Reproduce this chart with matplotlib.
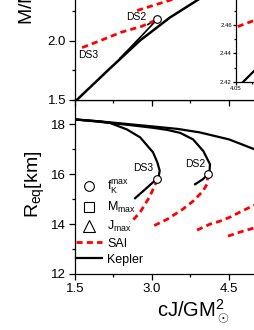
import numpy as np
import matplotlib
matplotlib.use("Agg")
import matplotlib.pyplot as plt
from matplotlib.lines import Line2D
from matplotlib.ticker import MultipleLocator

plt.rcParams['font.family'] = ['Liberation Sans', 'DejaVu Sans']
plt.rcParams['mathtext.fontset'] = 'custom'
plt.rcParams['mathtext.rm'] = 'Liberation Sans'
plt.rcParams['mathtext.it'] = 'Liberation Sans:italic'
plt.rcParams['mathtext.bf'] = 'Liberation Sans:bold'

# --- obere Tafel: M/Msun gegen cJ/GM^2 ---
m_kep_x = [1.52, 2.18, 2.766, 3.35, 3.935, 4.5]
m_kep_y = [1.49, 1.763, 2.0, 2.195, 2.356, 2.49]
m_ds2_kep_x = [2.377, 2.766, 3.097, 2.92]
m_ds2_kep_y = [1.85, 2.025, 2.178, 2.136]
m_sai_lo_x = [1.64, 2.0, 2.4, 2.8, 3.09]
m_sai_lo_y = [1.94, 2.0, 2.07, 2.12, 2.175]
m_sai_hi_x = [2.71, 3.39, 3.7]
m_sai_hi_y = [2.254, 2.347, 2.39]
m_fk_x = [3.097]
m_fk_y = [2.178]

# Inset
ins_kep_x = [4.061, 4.0797, 4.10]
ins_kep_y = [2.42, 2.4284, 2.438]
ins_sai_x = [4.0527, 4.0797, 4.10]
ins_sai_y = [2.4588, 2.4633, 2.467]

# --- untere Tafel: R_eq gegen cJ/GM^2 ---
r_kep_x = [1.5, 2.0, 2.5, 2.96, 3.5, 3.93, 4.5, 5.0, 5.5]
r_kep_y = [18.2, 18.12, 18.02, 17.93, 17.82, 17.68, 17.4, 17.0, 16.6]
r_ds2_kep_x = [1.5, 2.0, 2.5, 3.0, 3.3, 3.55, 3.8, 4.0, 4.13, 4.12, 4.09, 3.99, 3.84]
r_ds2_kep_y = [18.2, 18.1, 17.99, 17.87, 17.78, 17.66, 17.4, 16.93, 16.4, 16.1, 16.0, 15.8, 15.6]
r_ds3_kep_x = [1.5, 1.99, 2.18, 2.51, 2.77, 3.02, 3.10, 3.15, 3.13, 3.097, 3.02, 2.825, 2.67]
r_ds3_kep_y = [18.2, 18.12, 18.06, 17.8, 17.48, 16.88, 16.5, 16.15, 15.9, 15.82, 15.68, 15.32, 15.04]
r_ds3_sai_x = [3.097, 3.09, 2.96, 2.77, 2.61, 2.57]
r_ds3_sai_y = [15.8, 15.72, 15.12, 14.48, 14.12, 14.07]
r_ds2_sai_x = [4.09, 4.07, 3.99, 3.8, 3.6, 3.3, 3.03]
r_ds2_sai_y = [16.0, 15.6, 15.32, 14.92, 14.6, 14.2, 13.93]
r_sai_c_x = [3.877, 4.13, 4.325, 4.52, 4.71, 4.91, 5.1]
r_sai_c_y = [13.76, 14.0, 14.12, 14.28, 14.48, 14.68, 14.85]
r_sai_d_x = [4.48, 4.71, 4.91, 5.1]
r_sai_d_y = [13.52, 13.68, 13.8, 13.92]
r_fk_x = [3.097, 4.09]
r_fk_y = [15.8, 16.0]

W, H = 255, 330
fig = plt.figure(figsize=(W/100, H/100), dpi=100)

def px_box(left, bottom, width, height):
    return [left/W, bottom/H, width/W, height/H]

ax2 = fig.add_axes(px_box(75, 56, 231, 174.5))     # unten
ax1 = fig.add_axes(px_box(75, 230.5, 231, 118))    # oben
axi = fig.add_axes(px_box(236, 248, 64, 100))      # Inset

red = dict(color='red', lw=2.0, dashes=(2.2, 1.5))
blk = dict(color='black', lw=1.6)
circ = dict(marker='o', ls='none', ms=5.5, mfc='white', mec='black', mew=0.8, zorder=5)

def style(ax, fs=9.5, major=4, minor=2.2):
    ax.tick_params(which='both', direction='out', labelsize=fs, width=0.9, pad=2.5)
    ax.tick_params(which='major', length=major)
    ax.tick_params(which='minor', length=minor)
    for s in ax.spines.values():
        s.set_linewidth(0.9)

# obere Tafel
ax1.plot(m_kep_x, m_kep_y, color='black', lw=1.8)
ax1.plot(m_ds2_kep_x, m_ds2_kep_y, color='black', lw=1.2)
ax1.plot(m_sai_lo_x, m_sai_lo_y, **red)
ax1.plot(m_sai_hi_x, m_sai_hi_y, **red)
ax1.plot(m_fk_x, m_fk_y, **circ)
ax1.text(2.688, 2.199, 'DS2', fontsize=7.5, ha='center', va='center')
ax1.text(1.754, 1.873, 'DS3', fontsize=7.5, ha='center', va='center')
ax1.set_xlim(1.5, 6.0)
ax1.set_ylim(1.5, 2.5)
ax1.xaxis.set_major_locator(MultipleLocator(1.5))
ax1.xaxis.set_minor_locator(MultipleLocator(0.75))
ax1.yaxis.set_minor_locator(MultipleLocator(0.25))
ax1.set_yticks([1.5, 2.0, 2.5])
ax1.set_yticklabels(['1.5', '2.0', ''])
ax1.tick_params(labelbottom=False)
style(ax1)

# Inset
axi.plot(ins_kep_x, ins_kep_y, **blk)
axi.plot(ins_sai_x, ins_sai_y, **red)
axi.set_xlim(4.05, 4.15)
axi.set_ylim(2.42, 2.49)
axi.set_xticks([4.05, 4.10, 4.15])
axi.set_xticklabels(['4.05', '', ''])
axi.set_yticks([2.42, 2.44, 2.46, 2.48])
axi.set_yticklabels(['2.42', '2.44', '2.46', ''])
axi.yaxis.set_minor_locator(MultipleLocator(0.01))
axi.xaxis.set_minor_locator(MultipleLocator(0.025))
style(axi, fs=4.3, major=2, minor=1.2)
axi.tick_params(pad=1)

# untere Tafel
ax2.plot(r_kep_x, r_kep_y, **blk)
ax2.plot(r_ds2_kep_x, r_ds2_kep_y, **blk)
ax2.plot(r_ds3_kep_x, r_ds3_kep_y, **blk)
for xs, ys in [(r_ds3_sai_x, r_ds3_sai_y), (r_ds2_sai_x, r_ds2_sai_y),
               (r_sai_c_x, r_sai_c_y), (r_sai_d_x, r_sai_d_y)]:
    ax2.plot(xs, ys, **red)
ax2.plot(r_fk_x, r_fk_y, **circ)
ax2.text(2.825, 16.24, 'DS3', fontsize=7.5, ha='center', va='center')
ax2.text(3.84, 16.4, 'DS2', fontsize=7.5, ha='center', va='center')
ax2.set_xlim(1.5, 6.0)
ax2.set_ylim(12, 19)
ax2.set_xticks([1.5, 3.0, 4.5, 6.0])
ax2.set_xticklabels(['1.5', '3.0', '4.5', ''])
ax2.xaxis.set_minor_locator(MultipleLocator(0.75))
ax2.set_yticks([12, 14, 16, 18])
ax2.yaxis.set_minor_locator(MultipleLocator(1))
style(ax2)

handles = [
    Line2D([], [], marker='o', ls='none', ms=7, mfc='white', mec='black', mew=0.8),
    Line2D([], [], marker='s', ls='none', ms=7, mfc='white', mec='black', mew=0.8),
    Line2D([], [], marker='^', ls='none', ms=8, mfc='white', mec='black', mew=0.8),
    Line2D([], [], **red),
    Line2D([], [], **blk),
]
labels = [r'f$_{\rm K}^{\rm max}$', r'M$_{\rm max}$', r'J$_{\rm max}$', 'SAI', 'Kepler']
ax2.legend(handles, labels, loc='upper left', bbox_to_anchor=(0.005, 0.545),
           frameon=False, fontsize=9, handlelength=2.1, handletextpad=0.4,
           labelspacing=0.3, borderpad=0, borderaxespad=0)

fig.text(35/W, 1 - 184/H, r'R$_{\rm eq}$[km]', rotation=90, ha='center', va='center', fontsize=14)
fig.text(27/W, 1 - 25/H, r'M/M$_\odot$', rotation=90, ha='center', va='bottom', fontsize=14)
fig.text(157/W, 1 - 316.7/H, r'cJ/GM$^2_\odot$', ha='left', va='baseline', fontsize=14.5)

fig.savefig('out.png', dpi=100)
